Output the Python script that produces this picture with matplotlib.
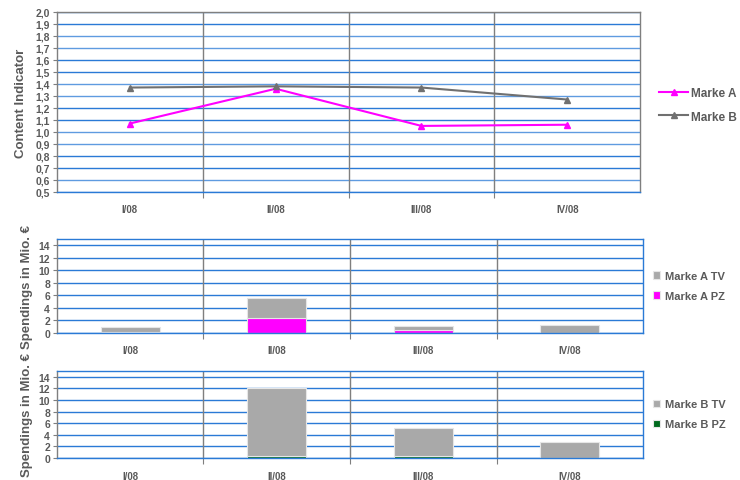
import matplotlib
matplotlib.use("Agg")
import matplotlib.pyplot as plt
from matplotlib.ticker import FixedLocator, FuncFormatter

plt.rcParams['font.family'] = ['Liberation Sans', 'DejaVu Sans']
plt.rcParams['font.weight'] = 'bold'

# quarters
quarters = ["I/08", "II/08", "III/08", "IV/08"]

# content indicator per brand
content_a = [1.07, 1.36, 1.05, 1.06]
content_b = [1.37, 1.38, 1.37, 1.27]

# spendings in million euro (TV / print)
spend_a_tv = [0.75, 3.1, 0.6, 1.3]
spend_a_pz = [0.1, 2.4, 0.5, 0.0]
spend_b_tv = [0.0, 11.8, 4.7, 2.8]
spend_b_pz = [0.0, 0.3, 0.4, 0.0]

txt = '#5a5a5a'
grid_blue = '#2a7ad6'
sep_gray = '#7f7f7f'
bar_gray = '#a9a9a9'

fig = plt.figure(figsize=(7.4, 4.81), dpi=100)

x = list(range(len(quarters)))


def style_axes(ax, frame_color):
    ax.set_xlim(-0.5, len(quarters) - 0.5)
    ax.xaxis.set_major_locator(FixedLocator([0.5, 1.5, 2.5]))
    ax.xaxis.set_minor_locator(FixedLocator(x))
    ax.set_xticklabels([])
    ax.xaxis.set_minor_formatter(FuncFormatter(lambda v, p: quarters[int(round(v))]))
    ax.tick_params(axis='x', which='major', length=4, color=sep_gray)
    ax.tick_params(axis='x', which='minor', length=0, pad=9, labelsize=7, labelcolor=txt)
    ax.tick_params(axis='y', length=3, color=sep_gray, labelsize=7.5, labelcolor=txt, pad=2)
    for v in [0.5, 1.5, 2.5]:
        ax.axvline(v, color=sep_gray, lw=1, zorder=1)
    for s in ax.spines.values():
        s.set_color(frame_color)
        s.set_linewidth(1)
    ax.spines['left'].set_color(sep_gray)


# line chart: content indicator
ax1 = fig.add_axes([0.077, 0.599, 0.788, 0.374])
ax1.set_ylim(0.5, 2.0)
ax1.set_yticks([0.5 + 0.1 * i for i in range(16)])
ax1.yaxis.set_major_formatter(FuncFormatter(lambda v, p: f"{v:.1f}".replace(".", ",")))
for i in range(16):
    ax1.axhline(0.5 + 0.1 * i, color=grid_blue, lw=1, alpha=0.75 if i % 4 < 2 else 1, zorder=0)
style_axes(ax1, sep_gray)
ax1.spines['bottom'].set_color(grid_blue)
ax1.plot(x, content_a, color='#ff00ff', lw=1.5, marker='^', ms=5, label='Marke A', zorder=3)
ax1.plot(x, content_b, color='#707070', lw=1.5, marker='^', ms=5, label='Marke B', zorder=3)
ax1.set_ylabel("Content Indicator", color=txt, fontsize=9.5, fontweight='bold', labelpad=6)
ax1.legend(loc='center left', bbox_to_anchor=(1.015, 0.485), frameon=False, fontsize=8.5,
           labelcolor=txt, handlelength=2.4, handletextpad=0.3, labelspacing=1.0)


def bar_panel(rect, tv, pz, pz_color, names):
    ax = fig.add_axes(rect)
    ax.set_ylim(0, 15)
    ax.set_yticks(range(0, 15, 2))
    for v in range(0, 15, 2):
        ax.axhline(v, color=grid_blue, lw=1, zorder=0)
    style_axes(ax, grid_blue)
    ax.bar(x, pz, width=0.4, color=pz_color, edgecolor='#e6e6e6', lw=0.8, label=names[1], zorder=2)
    ax.bar(x, tv, width=0.4, bottom=pz, color=bar_gray, edgecolor='#e6e6e6', lw=0.8,
           label=names[0], zorder=2)
    ax.set_ylabel("Spendings in Mio. €", color=txt, fontsize=9.5, fontweight='bold', labelpad=4)
    h, l = ax.get_legend_handles_labels()
    ax.legend(h[::-1], l[::-1], loc='center left', bbox_to_anchor=(1.0, 0.5), frameon=False,
              fontsize=8, labelcolor=txt, handlelength=0.6, handleheight=0.6,
              handletextpad=0.5, labelspacing=0.9)
    return ax


bar_panel([0.077, 0.306, 0.792, 0.195], spend_a_tv, spend_a_pz, '#ff00ff',
          ["Marke A TV", "Marke A PZ"])
bar_panel([0.077, 0.0457, 0.792, 0.181], spend_b_tv, spend_b_pz, '#006a1e',
          ["Marke B TV", "Marke B PZ"])

fig.savefig("out.png", dpi=100)
